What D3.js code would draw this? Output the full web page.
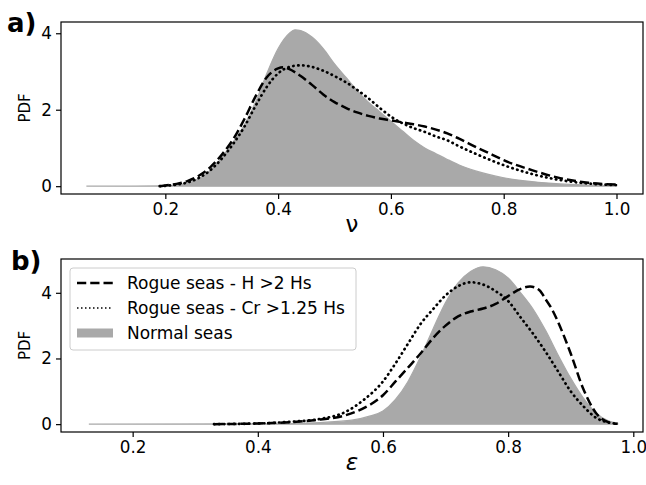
<!DOCTYPE html>
<html>
<head>
<meta charset="utf-8">
<script src="https://cdn.jsdelivr.net/npm/d3@7"></script>
<style>
  body { margin: 0; background: #fff; }
  svg text { font-family: 'DejaVu Sans', sans-serif; fill: #000; }
</style>
</head>
<body>
<div class="workspace"></div>
<script>
// panel a: nu
const nuNormal = [
  [0.06, 0], [0.2, 0.01], [0.22, 0.03], [0.24, 0.08], [0.26, 0.2], [0.28, 0.42],
  [0.3, 0.75], [0.32, 1.15], [0.34, 1.6], [0.36, 2.2], [0.38, 2.95], [0.4, 3.6],
  [0.42, 4.0], [0.43, 4.09], [0.44, 4.07], [0.46, 3.9], [0.48, 3.6], [0.5, 3.2],
  [0.52, 2.85], [0.54, 2.5], [0.56, 2.2], [0.58, 1.95], [0.6, 1.7], [0.62, 1.45],
  [0.64, 1.2], [0.66, 1.0], [0.68, 0.85], [0.7, 0.7], [0.72, 0.56], [0.75, 0.4],
  [0.8, 0.22], [0.85, 0.12], [0.9, 0.06], [0.95, 0.03], [1.0, 0.01]
];
const nuRogueH = [
  [0.19, 0], [0.2, 0.02], [0.22, 0.06], [0.24, 0.14], [0.26, 0.28], [0.28, 0.5],
  [0.3, 0.82], [0.32, 1.22], [0.34, 1.75], [0.36, 2.35], [0.38, 2.85], [0.4, 3.08],
  [0.41, 3.11], [0.42, 3.06], [0.44, 2.88], [0.46, 2.65], [0.48, 2.4], [0.5, 2.2],
  [0.52, 2.05], [0.54, 1.93], [0.56, 1.84], [0.58, 1.77], [0.6, 1.72], [0.62, 1.67],
  [0.64, 1.62], [0.66, 1.56], [0.68, 1.48], [0.7, 1.38], [0.72, 1.25], [0.75, 1.03],
  [0.78, 0.82], [0.8, 0.68], [0.85, 0.42], [0.9, 0.21], [0.95, 0.09], [1.0, 0.04]
];
const nuRogueCr = [
  [0.19, 0], [0.2, 0.01], [0.22, 0.04], [0.24, 0.1], [0.26, 0.22], [0.28, 0.42],
  [0.3, 0.72], [0.32, 1.1], [0.34, 1.55], [0.36, 2.1], [0.38, 2.6], [0.4, 2.95],
  [0.42, 3.12], [0.44, 3.16], [0.46, 3.12], [0.48, 3.02], [0.5, 2.88], [0.52, 2.72],
  [0.54, 2.52], [0.56, 2.3], [0.58, 2.05], [0.6, 1.82], [0.62, 1.65], [0.64, 1.52],
  [0.66, 1.42], [0.68, 1.3], [0.7, 1.2], [0.72, 1.05], [0.75, 0.85], [0.8, 0.55],
  [0.85, 0.32], [0.9, 0.16], [0.95, 0.07], [1.0, 0.03]
];

// panel b: epsilon
const epsNormal = [
  [0.13, 0], [0.4, 0.01], [0.45, 0.02], [0.5, 0.05], [0.55, 0.12], [0.58, 0.25],
  [0.6, 0.4], [0.62, 0.75], [0.64, 1.3], [0.66, 2.05], [0.68, 2.9], [0.7, 3.7],
  [0.72, 4.3], [0.74, 4.65], [0.76, 4.79], [0.78, 4.7], [0.8, 4.45], [0.82, 4.0],
  [0.84, 3.5], [0.86, 2.85], [0.88, 2.1], [0.9, 1.4], [0.92, 0.8], [0.94, 0.35],
  [0.96, 0.1], [0.975, 0.03]
];
const epsRogueH = [
  [0.33, 0], [0.4, 0.02], [0.45, 0.06], [0.5, 0.14], [0.54, 0.27], [0.58, 0.6],
  [0.6, 0.88], [0.62, 1.3], [0.64, 1.72], [0.66, 2.15], [0.68, 2.62], [0.7, 3.0],
  [0.72, 3.28], [0.74, 3.43], [0.76, 3.52], [0.78, 3.66], [0.8, 3.9], [0.82, 4.12],
  [0.835, 4.19], [0.85, 4.08], [0.86, 3.8], [0.87, 3.5], [0.88, 3.1], [0.9, 2.15],
  [0.92, 1.08], [0.94, 0.35], [0.96, 0.06], [0.975, 0.01]
];
const epsRogueCr = [
  [0.33, 0], [0.4, 0.02], [0.45, 0.07], [0.5, 0.16], [0.54, 0.37], [0.57, 0.75],
  [0.6, 1.3], [0.62, 1.85], [0.64, 2.45], [0.66, 3.05], [0.68, 3.5], [0.7, 3.92],
  [0.72, 4.2], [0.74, 4.32], [0.76, 4.25], [0.78, 4.05], [0.8, 3.75], [0.82, 3.25],
  [0.84, 2.75], [0.86, 2.2], [0.88, 1.6], [0.9, 1.0], [0.92, 0.55], [0.94, 0.2],
  [0.96, 0.05], [0.975, 0.01]
];

const xTicks = [0.2, 0.4, 0.6, 0.8, 1.0];
const yTicks = [0, 2, 4];
const legendLabels = ['Rogue seas - H >2 Hs', 'Rogue seas - Cr >1.25 Hs', 'Normal seas'];

const width = 646;
const height = 485;
const grey = '#a9a9a9';

const svg = d3
  .select('.workspace')
  .append('svg')
  .attr('width', width)
  .attr('height', height);

function drawPanel(opt) {
  const x = d3.scaleLinear().domain(opt.xDomain).range([61, 643]);
  const y = d3.scaleLinear().domain(opt.yDomain).range([opt.bottom, opt.top]);
  const g = svg.append('g');

  const area = d3
    .area()
    .curve(d3.curveMonotoneX)
    .x((d) => x(d[0]))
    .y0(y(0))
    .y1((d) => y(d[1]));
  const line = d3
    .line()
    .curve(d3.curveMonotoneX)
    .x((d) => x(d[0]))
    .y((d) => y(d[1]));

  g.append('path')
    .datum(opt.normal)
    .attr('d', area)
    .style('fill', grey)
    .style('stroke', grey)
    .style('stroke-width', 1.2);

  g.append('path')
    .datum(opt.rogueH)
    .attr('d', line)
    .style('fill', 'none')
    .style('stroke', '#000')
    .style('stroke-width', 2.5)
    .style('stroke-dasharray', '9.25,4');

  // dotted, round dots
  g.append('path')
    .datum(opt.rogueCr)
    .attr('d', line)
    .style('fill', 'none')
    .style('stroke', '#000')
    .style('stroke-width', 2.7)
    .style('stroke-linecap', 'round')
    .style('stroke-dasharray', '0.4,4.6');

  // axes
  const xAxis = g
    .append('g')
    .attr('transform', `translate(0,${opt.bottom})`)
    .call(d3.axisBottom(x).tickValues(xTicks).tickFormat(d3.format('.1f')).tickSize(5).tickPadding(4));
  const yAxis = g
    .append('g')
    .attr('transform', 'translate(61,0)')
    .call(d3.axisLeft(y).tickValues(yTicks).tickFormat(d3.format('d')).tickSize(5).tickPadding(4));
  [xAxis, yAxis].forEach((a) => {
    a.select('.domain').remove();
    a.selectAll('line').style('stroke', '#000').style('stroke-width', 1.2);
    a.selectAll('text').style('font-size', '16.8px').style('font-family', "'DejaVu Sans', sans-serif");
  });

  g.append('rect')
    .attr('x', 61)
    .attr('y', opt.top)
    .attr('width', 643 - 61)
    .attr('height', opt.bottom - opt.top)
    .style('fill', 'none')
    .style('stroke', '#000')
    .style('stroke-width', 1.2);

  g.append('text')
    .attr('transform', `translate(30,${(opt.top + opt.bottom) / 2}) rotate(-90)`)
    .attr('text-anchor', 'middle')
    .style('font-size', '15px')
    .text('PDF');

  g.append('text')
    .attr('x', 352)
    .attr('y', opt.bottom + 38)
    .attr('text-anchor', 'middle')
    .style('font-size', '23px')
    .style('font-style', opt.xItalic ? 'italic' : 'normal')
    .text(opt.xLabel);

  g.append('text')
    .attr('x', opt.labelX)
    .attr('y', opt.labelY)
    .style('font-size', '26px')
    .style('font-weight', 'bold')
    .text(opt.panel);

  return g;
}

drawPanel({
  normal: nuNormal,
  rogueH: nuRogueH,
  rogueCr: nuRogueCr,
  xDomain: [0.015, 1.047],
  yDomain: [-0.2045, 4.2945],
  top: 22,
  bottom: 194,
  xLabel: 'ν',
  xItalic: false,
  panel: 'a)',
  labelX: 7,
  labelY: 32,
});

const gb = drawPanel({
  normal: epsNormal,
  rogueH: epsRogueH,
  rogueCr: epsRogueCr,
  xDomain: [0.0855, 1.0155],
  yDomain: [-0.2395, 5.0295],
  top: 259,
  bottom: 432,
  xLabel: 'ε',
  xItalic: true,
  panel: 'b)',
  labelX: 11,
  labelY: 270,
});

// legend
const legend = gb.append('g');
legend
  .append('rect')
  .attr('x', 70)
  .attr('y', 268)
  .attr('width', 286)
  .attr('height', 82)
  .attr('rx', 3)
  .style('fill', 'rgba(255,255,255,0.8)')
  .style('stroke', '#cccccc')
  .style('stroke-width', 1);

const rows = [283, 308, 333];
legendLabels.forEach((label, i) => {
  const cy = rows[i];
  if (i === 2) {
    legend
      .append('rect')
      .attr('x', 77)
      .attr('y', cy - 4.5)
      .attr('width', 36)
      .attr('height', 9)
      .style('fill', grey);
  } else {
    legend
      .append('line')
      .attr('x1', 77)
      .attr('x2', 113)
      .attr('y1', cy)
      .attr('y2', cy)
      .style('stroke', '#000')
      .style('stroke-width', i === 0 ? 2.5 : 1.5)
      .style('stroke-dasharray', i === 0 ? '9.25,4' : '1.5,2.5');
  }
  legend
    .append('text')
    .attr('x', 127)
    .attr('y', cy + 6)
    .style('font-size', '17px')
    .text(label);
});
</script>
</body>
</html>
